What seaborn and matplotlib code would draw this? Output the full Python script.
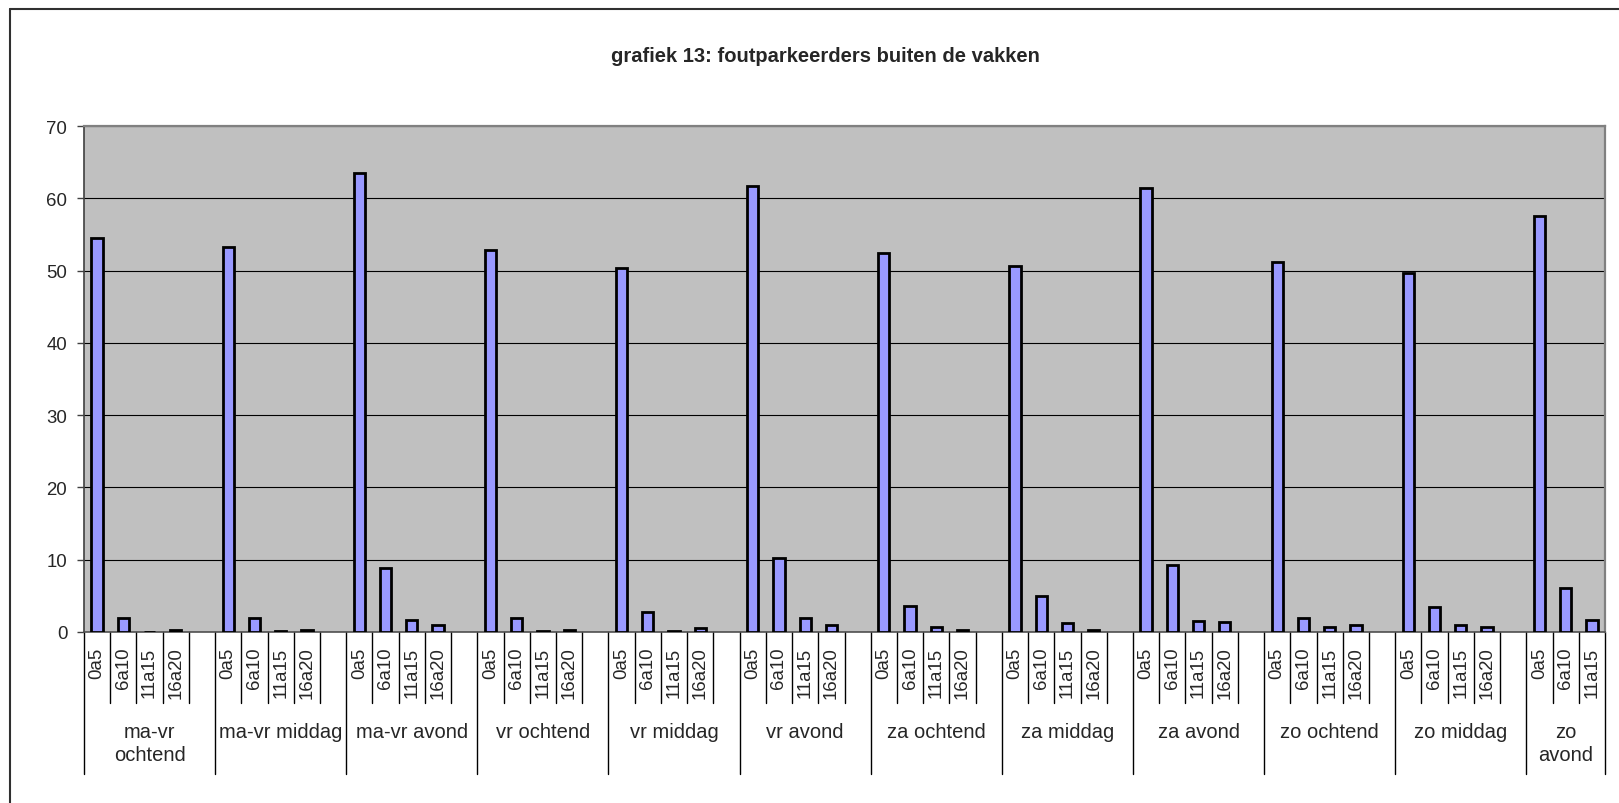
import numpy as np
import pandas as pd
import matplotlib
matplotlib.use('Agg')
import matplotlib.pyplot as plt
import matplotlib.transforms as mtransforms
from matplotlib.lines import Line2D
import seaborn as sns

# Dados
groepen = ['ma-vr\nochtend', 'ma-vr middag', 'ma-vr avond', 'vr ochtend', 'vr middag',
           'vr avond', 'za ochtend', 'za middag', 'za avond', 'zo ochtend', 'zo middag',
           'zo\navond']
klassen = ['0a5', '6a10', '11a15', '16a20']
v_0a5 = [54.5, 53.3, 63.5, 52.8, 50.4, 61.7, 52.4, 50.7, 61.4, 51.2, 49.6, 57.6]
v_6a10 = [2.0, 1.9, 8.9, 2.0, 2.7, 10.2, 3.6, 5.0, 9.3, 2.0, 3.4, 6.1]
v_11a15 = [0.0, 0.15, 1.7, 0.15, 0.15, 2.0, 0.7, 1.2, 1.5, 0.7, 0.9, 1.7]
v_16a20 = [0.3, 0.3, 0.9, 0.3, 0.5, 0.9, 0.3, 0.3, 1.45, 0.9, 0.7, None]

# tabela com um "slot" por categoria (inclui slot vazio entre grupos, como no Excel)
linhas = []
labels = []
slot = 0
for g, nome in enumerate(groepen):
    vals = [v_0a5[g], v_6a10[g], v_11a15[g], v_16a20[g]]
    for k, v in zip(klassen, vals):
        if v is None:
            continue
        linhas.append({'slot': slot, 'groep': nome, 'klasse': k, 'waarde': v})
        labels.append(k)
        slot += 1
    if g < len(groepen) - 1:
        labels.append('')
        slot += 1
n_slots = slot
df = pd.DataFrame(linhas)

sns.set_style("white")
plt.rcParams['font.family'] = ['Liberation Sans', 'DejaVu Sans']

W, H = 1619, 804
fig = plt.figure(figsize=(W / 100, H / 100), dpi=100)
ax = fig.add_axes([84 / W, (H - 633) / H, 1521 / W, 506 / H])
ax.set_facecolor('#C0C0C0')

sns.barplot(data=df, x='slot', y='waarde', order=list(range(n_slots)),
            color='#9999FF', saturation=1, edgecolor='black', linewidth=2,
            width=0.43, errorbar=None, ax=ax, zorder=3)

ax.set_xlim(-0.5, n_slots - 0.5)
ax.set_ylim(0, 70)
ax.set_yticks(range(0, 71, 10))
ax.yaxis.grid(True, color='black', linewidth=0.8)
ax.xaxis.grid(False)
ax.set_axisbelow(True)
ax.set_xlabel('')
ax.set_ylabel('')

ax.set_xticks(range(n_slots))
ax.set_xticklabels(labels, rotation=90, fontsize=13.4, va='top', ha='center')
ax.tick_params(axis='x', length=0, pad=10.5)
ax.tick_params(axis='y', direction='out', length=5, width=1, color='#404040',
               labelsize=13.4, pad=7, left=True)

for s in ['top', 'right']:
    ax.spines[s].set_color('#808080')
    ax.spines[s].set_linewidth(1.6)
ax.spines['left'].set_color('#404040')
ax.spines['bottom'].set_color('#505050')
ax.spines['left'].set_linewidth(1.2)
ax.spines['bottom'].set_linewidth(1.2)

# linhas de separação do eixo de categorias (dois níveis)
trans = mtransforms.blended_transform_factory(ax.transData, ax.transAxes)
inicio_grupos = []
pos = 0
for g in range(len(groepen)):
    n = 4 if g < len(groepen) - 1 else 3
    inicio_grupos.append(pos)
    pos += n + (1 if g < len(groepen) - 1 else 0)
fronteiras_longas = set(inicio_grupos + [n_slots])
for b in range(n_slots + 1):
    y_fim = -0.281 if b in fronteiras_longas else -0.140
    ax.plot([b - 0.5, b - 0.5], [0, y_fim], color='black', linewidth=1,
            transform=trans, clip_on=False)

# rótulos dos grupos
for g, nome in enumerate(groepen):
    ini = inicio_grupos[g]
    fim = (inicio_grupos[g + 1] if g + 1 < len(groepen) else n_slots)
    centro = (ini + fim) / 2 - 0.5
    ax.text(centro, -0.178, nome, transform=trans, ha='center', va='top',
            fontsize=14.5, linespacing=1.25)

# título e borda do gráfico
fig.text(825 / W, 1 - 56 / H, 'grafiek 13: foutparkeerders buiten de vakken',
         ha='center', va='center', fontsize=14.5, fontweight='bold')
fig.add_artist(Line2D([10 / W, 10 / W], [1 - 10 / H, 0], color='#303030',
                      linewidth=1.5, transform=fig.transFigure))
fig.add_artist(Line2D([10 / W, 1], [1 - 10 / H, 1 - 10 / H], color='#303030',
                      linewidth=1.5, transform=fig.transFigure))

plt.savefig('out.png', dpi=100)
print("ok")
